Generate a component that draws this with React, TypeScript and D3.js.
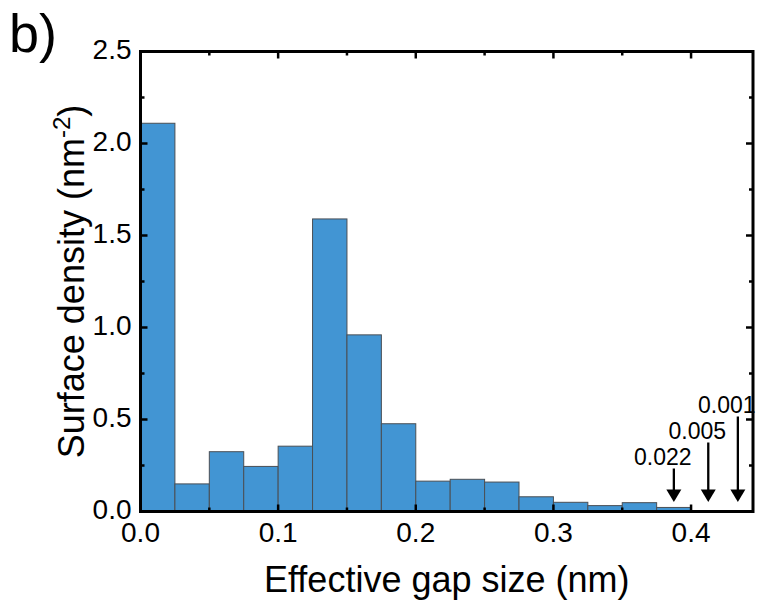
import React, { useEffect, useRef } from "react";
import * as d3 from "d3";

// histogram bins (nm) and surface density values (nm^-2)
const binStarts = [0, 0.025, 0.05, 0.075, 0.1, 0.125, 0.15, 0.175, 0.2, 0.225, 0.25, 0.275, 0.3, 0.325, 0.35, 0.375, 0.4, 0.425];
const density = [2.11, 0.15, 0.325, 0.245, 0.355, 1.59, 0.96, 0.477, 0.165, 0.175, 0.16, 0.08, 0.05, 0.032, 0.048, 0.022, 0.005, 0.001];
const binWidth = 0.025;

const xTicks = [0, 0.1, 0.2, 0.3, 0.4];
const yTicks = [0, 0.5, 1.0, 1.5, 2.0, 2.5];

// small-value annotations
const noteLabels = ["0.022", "0.005", "0.001"];
const noteX = [0.3875, 0.4125, 0.434];

export default function App() {
  const ref = useRef<SVGSVGElement | null>(null);

  useEffect(() => {
    document.body.style.margin = "0";
    const svg = d3.select(ref.current);
    svg.selectAll("*").remove();

    const margin = { top: 51.5, right: 7, bottom: 91.5, left: 140.5 };
    const W = 760;
    const H = 603;
    const width = W - margin.left - margin.right;
    const height = H - margin.top - margin.bottom;

    const x = d3.scaleLinear().domain([0, 0.445]).range([0, width]);
    const y = d3.scaleLinear().domain([0, 2.5]).range([height, 0]);

    const g = svg.append("g").attr("transform", `translate(${margin.left},${margin.top})`);

    g.append("clipPath").attr("id", "plot").append("rect").attr("width", width).attr("height", height);

    g.append("g")
      .attr("clip-path", "url(#plot)")
      .selectAll("rect")
      .data(binStarts)
      .enter()
      .append("rect")
      .attr("x", (d) => x(d))
      .attr("y", (d, i) => y(density[i]))
      .attr("width", x(binWidth) - x(0))
      .attr("height", (d, i) => height - y(density[i]))
      .attr("fill", "#4295d3")
      .attr("stroke", "#4a4f55")
      .attr("stroke-width", 1);

    const font = "'Liberation Sans', Arial, sans-serif";

    // ticks inward on all four sides
    const xMinor = d3.range(0, 0.445, 0.05);
    const yMinor = d3.range(0, 2.51, 0.25);
    const tickG = g.append("g").attr("stroke", "#000").attr("stroke-width", 2.5);
    xMinor.forEach((v, i) => {
      const len = i % 2 === 0 ? 7 : 4;
      tickG.append("line").attr("x1", x(v)).attr("x2", x(v)).attr("y1", height).attr("y2", height - len);
      tickG.append("line").attr("x1", x(v)).attr("x2", x(v)).attr("y1", 0).attr("y2", len);
    });
    yMinor.forEach((v, i) => {
      const len = i % 2 === 0 ? 7 : 4;
      tickG.append("line").attr("x1", 0).attr("x2", len).attr("y1", y(v)).attr("y2", y(v));
      tickG.append("line").attr("x1", width).attr("x2", width - len).attr("y1", y(v)).attr("y2", y(v));
    });

    g.append("rect")
      .attr("width", width)
      .attr("height", height)
      .attr("fill", "none")
      .attr("stroke", "#000")
      .attr("stroke-width", 3);

    g.selectAll(".xl")
      .data(xTicks)
      .enter()
      .append("text")
      .attr("x", (d) => x(d))
      .attr("y", height + 30)
      .attr("text-anchor", "middle")
      .style("font-family", font)
      .style("font-size", "28px")
      .text((d) => d3.format(".1f")(d));

    g.selectAll(".yl")
      .data(yTicks)
      .enter()
      .append("text")
      .attr("x", -9)
      .attr("y", (d) => y(d) + 7)
      .attr("text-anchor", "end")
      .style("font-family", font)
      .style("font-size", "28px")
      .text((d) => d3.format(".1f")(d));

    g.append("text")
      .attr("x", width / 2)
      .attr("y", height + 80)
      .attr("text-anchor", "middle")
      .style("font-family", font)
      .style("font-size", "36px")
      .text("Effective gap size (nm)");

    const yt = g
      .append("text")
      .attr("transform", `translate(-57,${height / 2}) rotate(-90)`)
      .attr("text-anchor", "middle")
      .style("font-family", font)
      .style("font-size", "36px");
    yt.append("tspan").text("Surface density (nm");
    yt.append("tspan").attr("dy", -14).style("font-size", "24px").text("-2");
    yt.append("tspan").attr("dy", 14).text(")");

    // arrows with labels
    noteX.forEach((v, i) => {
      const base = height - 47 - i * 26;
      const ax = x(v);
      g.append("text")
        .attr("x", ax - 11)
        .attr("y", base)
        .attr("text-anchor", "middle")
        .style("font-family", font)
        .style("font-size", "23px")
        .text(noteLabels[i]);
      g.append("line")
        .attr("x1", ax)
        .attr("x2", ax)
        .attr("y1", base + 4)
        .attr("y2", height - 20)
        .attr("stroke", "#000")
        .attr("stroke-width", 2.3);
      g.append("path")
        .attr("d", `M${ax - 7.5},${height - 22} L${ax + 7.5},${height - 22} L${ax},${height - 9.5} Z`)
        .attr("fill", "#000");
    });

    svg.append("text")
      .attr("x", 9)
      .attr("y", 52)
      .style("font-family", font)
      .style("font-size", "54px")
      .text("b)");
  }, []);

  return <svg ref={ref} width={760} height={603} style={{ display: "block" }}></svg>;
}
